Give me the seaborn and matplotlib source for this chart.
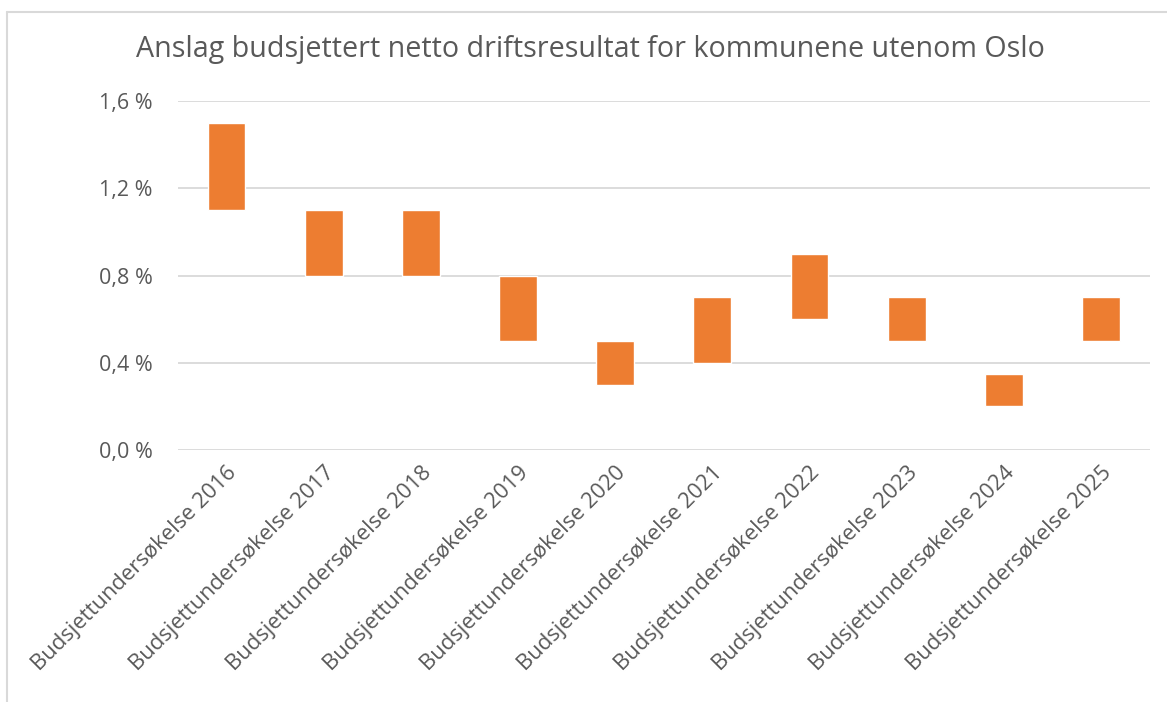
import pandas as pd
import matplotlib.pyplot as plt
import seaborn as sns
from matplotlib.lines import Line2D
from matplotlib.ticker import FuncFormatter

# -----------------------------
# Data
# -----------------------------
categories = [f"Budsjettundersøkelse {y}" for y in range(2016, 2026)]
low = [1.1, 0.8, 0.8, 0.5, 0.3, 0.4, 0.6, 0.5, 0.2, 0.5]
high = [1.5, 1.1, 1.1, 0.8, 0.5, 0.7, 0.9, 0.7, 0.35, 0.7]
yticks = [0.0, 0.4, 0.8, 1.2, 1.6]
title = "Anslag budsjettert netto driftsresultat for kommunene utenom Oslo"

df = pd.DataFrame({"survey": categories, "low": low, "high": high})
df["span"] = df["high"] - df["low"]

# -----------------------------
# Plot
# -----------------------------
sns.set_style("white")
plt.rcParams["font.family"] = ["Open Sans", "DejaVu Sans"]

fig = plt.figure(figsize=(11.67, 7.02), dpi=100)
ax = fig.add_axes([0.1525, 0.359, 0.9851 - 0.1525, 0.856 - 0.359])

sns.barplot(
    data=df,
    x="survey",
    y="span",
    bottom=df["low"].values,
    color="#ED7D31",
    saturation=1,
    width=0.39,
    ax=ax,
    zorder=3,
)

ax.set_ylim(0, 1.6)
ax.set_xlim(-0.5, len(categories) - 0.5)
ax.set_yticks(yticks)
ax.yaxis.set_major_formatter(FuncFormatter(lambda v, p: f"{v:.1f} %".replace(".", ",")))
ax.grid(axis="y", color="#d9d9d9", linewidth=1.3, zorder=0)
ax.set_axisbelow(True)
for s in ax.spines.values():
    s.set_visible(False)

ax.set_xlabel("")
ax.set_ylabel("")
ax.tick_params(axis="y", length=0, pad=18, labelsize=15.5, labelcolor="#595959")
ax.tick_params(axis="x", length=0, pad=9, labelsize=15.8, labelcolor="#595959")
for lbl in ax.get_xticklabels():
    lbl.set_rotation(45)
    lbl.set_ha("right")
    lbl.set_va("top")
    lbl.set_rotation_mode("anchor")

fig.text(0.506, 1 - 49 / 702, title, ha="center", va="center",
         fontsize=20.6, color="#595959")

# chart frame (partly cropped in the original)
fig.add_artist(Line2D([7 / 1167, 1], [1 - 12 / 702] * 2, color="#d9d9d9", lw=1.5))
fig.add_artist(Line2D([7 / 1167] * 2, [0, 1 - 12 / 702], color="#d9d9d9", lw=1.5))

plt.savefig("out.png", dpi=100)
